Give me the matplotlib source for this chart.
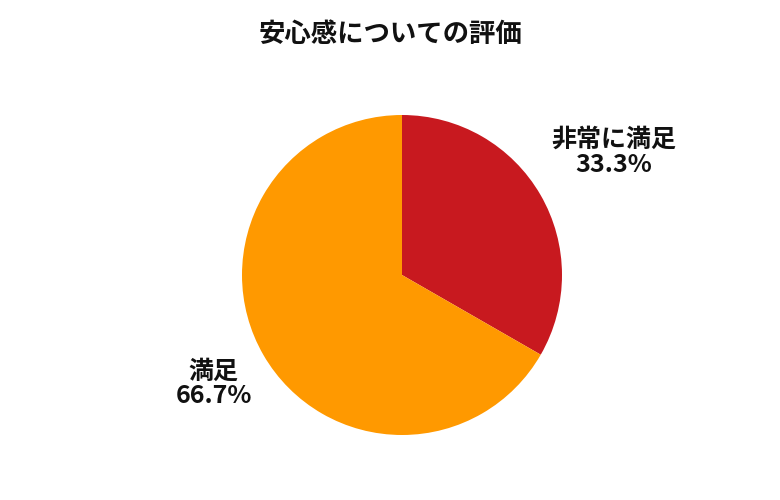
import numpy as np
import matplotlib
matplotlib.use("Agg")
from matplotlib import pyplot as plt

plt.rcParams['font.family'] = ['Noto Sans CJK JP', 'DejaVu Sans']

title = "安心感についての評価"
labels = ["非常に満足", "満足"]
values = [33.3, 66.7]
colors = ["#C8191F", "#FF9900"]
label_dist = [1.53, 1.36]

fig = plt.figure(figsize=(7.8, 5), dpi=100)
ax = fig.add_axes([242 / 780, 65 / 500, 320 / 780, 320 / 500])

wedges, _ = ax.pie(values, colors=colors, startangle=90, counterclock=False,
                   wedgeprops=dict(linewidth=0))
ax.set_xlim(-1, 1)
ax.set_ylim(-1, 1)
ax.set_aspect('equal')

for w, lab, v, d in zip(wedges, labels, values, label_dist):
    ang = np.deg2rad((w.theta1 + w.theta2) / 2)
    ax.text(d * np.cos(ang), d * np.sin(ang), f"{lab}\n{v:.1f}%",
            ha='center', va='center', fontsize=18, fontweight='bold',
            linespacing=1.05, color='#111111', clip_on=False)

fig.text(0.5, 1 - 34 / 500, title, ha='center', va='center',
         fontsize=19, fontweight='bold', color='#111111')

fig.savefig("out.png", dpi=100, facecolor='white')
